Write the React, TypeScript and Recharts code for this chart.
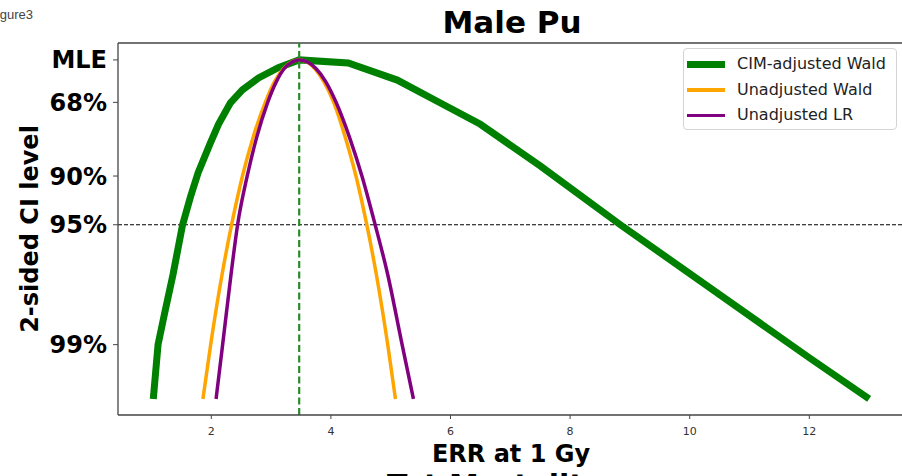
import React from 'react';
import { LineChart, Line, XAxis, YAxis, ReferenceLine } from 'recharts';

// y values are on the chi-square (deviance) scale; 0 = MLE
const yTickValues = [0, 0.989, 2.706, 3.841, 6.635];
const yTickLabels = ['MLE', '68%', '90%', '95%', '99%'];
const xTicks = [2, 4, 6, 8, 10, 12];

const cimX = [1.03, 1.11, 1.22, 1.36, 1.52, 1.65, 1.78, 1.98, 2.12, 2.32, 2.52, 2.79, 3.12, 3.47, 4.29, 5.11, 5.8, 6.5, 7.5, 8.84, 10.5, 12.0, 13.0];
const cimY = [7.9, 6.63, 5.9, 5.0, 3.84, 3.2, 2.63, 1.95, 1.5, 1.0, 0.7, 0.42, 0.18, 0, 0.07, 0.47, 0.98, 1.5, 2.47, 3.84, 5.47, 6.94, 7.9];

const waldX = [1.86, 1.99, 2.18, 2.34, 2.52, 2.7, 2.9, 3.06, 3.21, 3.34, 3.47, 3.6, 3.73, 3.88, 4.05, 4.24, 4.42, 4.6, 4.76, 4.95, 5.08];
const waldY = [7.9, 6.63, 5.0, 3.84, 2.71, 1.8, 1.0, 0.5, 0.2, 0.05, 0, 0.05, 0.2, 0.5, 1.0, 1.8, 2.71, 3.84, 5.0, 6.63, 7.9];

const lrX = [2.08, 2.19, 2.33, 2.44, 2.6, 2.76, 2.94, 3.09, 3.22, 3.35, 3.47, 3.61, 3.75, 3.91, 4.09, 4.31, 4.52, 4.74, 4.95, 5.19, 5.38];
const lrY = [7.9, 6.63, 5.0, 3.84, 2.71, 1.8, 1.0, 0.5, 0.2, 0.05, 0, 0.05, 0.2, 0.5, 1.0, 1.8, 2.71, 3.84, 5.0, 6.63, 7.9];

const mleErr = 3.47;

const seriesNames = ['CIM-adjusted Wald', 'Unadjusted Wald', 'Unadjusted LR'];
const seriesColors = ['#008000', '#FFA500', '#800080'];
const seriesWidths = [7, 3.5, 3.5];

const toPoints = (xs: number[], ys: number[]) => xs.map((x, i) => ({ x, v: ys[i] }));

const cimData = toPoints(cimX, cimY);
const waldData = toPoints(waldX, waldY);
const lrData = toPoints(lrX, lrY);

const FONT = 'DejaVu Sans, sans-serif';

const LegendBox = () => (
  <div
    style={{
      position: 'absolute',
      left: 683,
      top: 48,
      boxSizing: 'border-box',
      width: 214,
      height: 82,
      border: '1px solid #d4d4d4',
      borderRadius: 4,
      background: 'rgba(255,255,255,0.85)',
      paddingTop: 2.5,
      fontFamily: FONT,
    }}
  >
    {seriesNames.map((name, i) => (
      <div key={name} style={{ display: 'flex', alignItems: 'center', height: 25.5 }}>
        <div style={{ width: 38, height: seriesWidths[i], background: seriesColors[i], marginLeft: 3 }} />
        <span style={{ marginLeft: 12, fontSize: 16, color: '#222', lineHeight: 1 }}>{name}</span>
      </div>
    ))}
  </div>
);

export default function App() {
  return (
    <div style={{ position: 'absolute', left: 0, top: 0, width: 902, height: 476, overflow: 'hidden', background: '#fff' }}>
      <LineChart width={906} height={476} margin={{ top: 43, right: 1, bottom: 31, left: 0 }}>
        <XAxis
          type="number"
          dataKey="x"
          domain={[0.44, 13.6]}
          ticks={xTicks}
          allowDataOverflow
          height={30}
          tickSize={4}
          tickMargin={8}
          axisLine={{ stroke: '#444', strokeWidth: 1.3 }}
          tickLine={{ stroke: '#444' }}
          tick={{ fontSize: 11, fill: '#333', fontFamily: FONT }}
        />
        <YAxis
          type="number"
          dataKey="v"
          domain={[-0.394, 8.274]}
          reversed
          allowDataOverflow
          ticks={yTickValues}
          tickFormatter={(v: number) => yTickLabels[yTickValues.indexOf(v)] ?? ''}
          width={118}
          tickSize={5}
          tickMargin={6}
          axisLine={{ stroke: '#444', strokeWidth: 1.3 }}
          tickLine={{ stroke: '#444' }}
          tick={{ fontSize: 24, fontWeight: 700, fill: '#000', fontFamily: FONT }}
        />
        <ReferenceLine y={-0.394} stroke="#444" strokeWidth={1.3} ifOverflow="visible" />
        <ReferenceLine y={3.841} stroke="#000" strokeWidth={1.1} strokeDasharray="4 2" />
        <Line
          data={cimData}
          dataKey="v"
          name={seriesNames[0]}
          type="linear"
          stroke={seriesColors[0]}
          strokeWidth={seriesWidths[0]}
          dot={false}
          isAnimationActive={false}
        />
        <Line
          data={waldData}
          dataKey="v"
          name={seriesNames[1]}
          type="monotone"
          stroke={seriesColors[1]}
          strokeWidth={seriesWidths[1]}
          dot={false}
          isAnimationActive={false}
        />
        <Line
          data={lrData}
          dataKey="v"
          name={seriesNames[2]}
          type="monotone"
          stroke={seriesColors[2]}
          strokeWidth={seriesWidths[2]}
          dot={false}
          isAnimationActive={false}
        />
        <ReferenceLine x={mleErr} stroke="#2a8a2a" strokeWidth={2.2} strokeDasharray="7 3.5" />
      </LineChart>
      <LegendBox />
      <svg width={902} height={476} style={{ position: 'absolute', left: 0, top: 0, pointerEvents: 'none' }}>
        <text x={-11} y={19} fontSize={13} fill="#444" fontFamily="Liberation Sans, Arial, sans-serif">Figure3</text>
        <text x={512} y={33} textAnchor="middle" fontSize={31} fontWeight={700} fontFamily={FONT}>Male Pu</text>
        <text x={511} y={462} textAnchor="middle" fontSize={24} fontWeight={700} fontFamily={FONT}>ERR at 1 Gy</text>
        <text x={387} y={496} fontSize={30} fontWeight={700} fontFamily={FONT}>Tot Mortality</text>
        <text
          x={38}
          y={229}
          transform="rotate(-90 38 229)"
          textAnchor="middle"
          fontSize={24}
          fontWeight={700}
          fontFamily={FONT}
        >
          2-sided CI level
        </text>
      </svg>
    </div>
  );
}
